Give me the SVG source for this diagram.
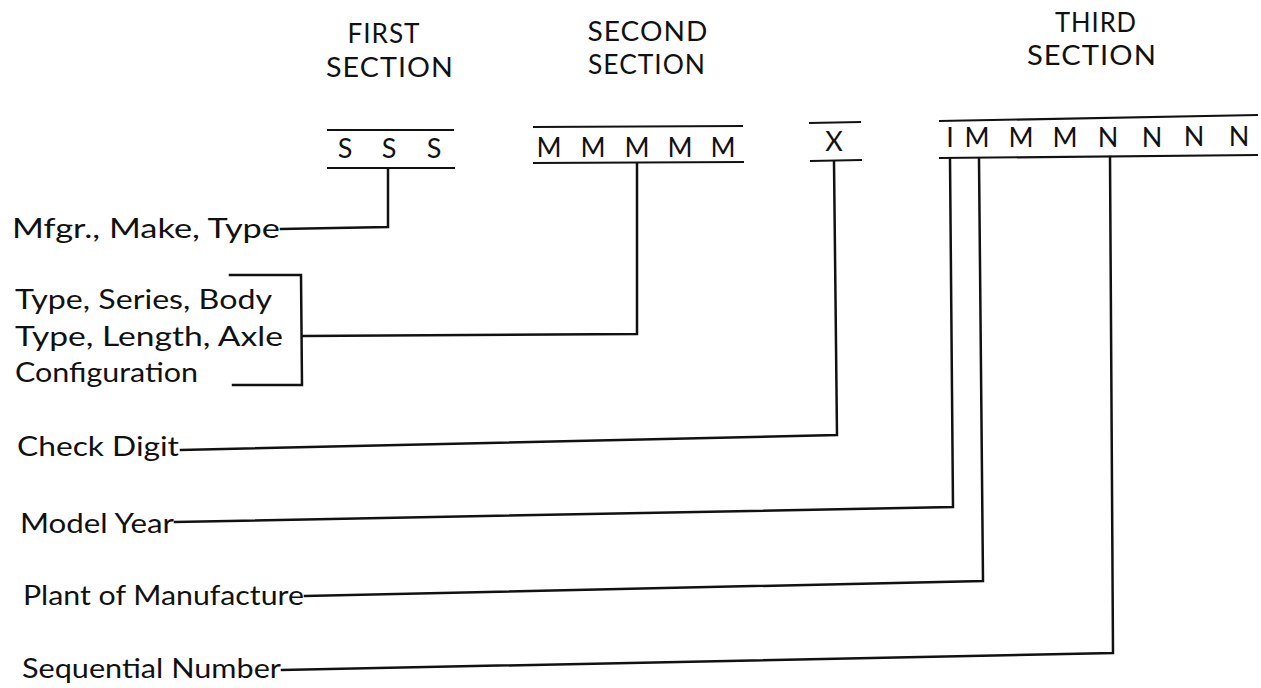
<svg xmlns="http://www.w3.org/2000/svg" width="1261" height="688" viewBox="0 0 1261 688">
<style>
text{font-family:"Lato","Liberation Sans",sans-serif;fill:#111;}
.hd{font-size:27px;text-anchor:middle;letter-spacing:1px;}
.ch{font-size:27px;text-anchor:middle;}
.lb{font-size:26px;}
.ln{fill:none;stroke:#111;stroke-width:2.5;stroke-linejoin:miter;stroke-linecap:square;}
.bx{fill:none;stroke:#111;stroke-width:2.2;}
</style>
<rect width="1261" height="688" fill="#fff"/>
<g id="headers">
<text class="hd" x="384" y="43" textLength="73" lengthAdjust="spacingAndGlyphs">FIRST</text>
<text class="hd" x="390" y="77" textLength="128" lengthAdjust="spacingAndGlyphs">SECTION</text>
<text class="hd" x="648" y="41" textLength="121" lengthAdjust="spacingAndGlyphs">SECOND</text>
<text class="hd" x="647" y="74" textLength="118" lengthAdjust="spacingAndGlyphs">SECTION</text>
<text class="hd" x="1096" y="32" textLength="82" lengthAdjust="spacingAndGlyphs">THIRD</text>
<text class="hd" x="1092" y="65" textLength="130" lengthAdjust="spacingAndGlyphs">SECTION</text>
</g>
<g id="first-section">
<line class="bx" x1="327" y1="130" x2="454" y2="130"/>
<line class="bx" x1="327" y1="168" x2="455" y2="168"/>
<text class="ch" x="345" y="158">S</text>
<text class="ch" x="389" y="158">S</text>
<text class="ch" x="434" y="158">S</text>
</g>
<g id="second-section">
<line class="bx" x1="533" y1="127" x2="743" y2="126"/>
<line class="bx" x1="533" y1="163" x2="744" y2="162"/>
<text class="ch" x="549" y="157">M</text>
<text class="ch" x="593" y="157">M</text>
<text class="ch" x="637" y="157">M</text>
<text class="ch" x="680" y="157">M</text>
<text class="ch" x="723" y="157">M</text>
</g>
<g id="check-box">
<line class="bx" x1="809" y1="123" x2="861" y2="122"/>
<line class="bx" x1="810" y1="161" x2="862" y2="160"/>
<text class="ch" x="834" y="151">X</text>
</g>
<g id="third-section">
<line class="bx" x1="939" y1="121" x2="1258" y2="115"/>
<line class="bx" x1="939" y1="158" x2="1258" y2="155"/>
<text class="ch" x="950" y="147">I</text>
<text class="ch" x="977" y="147">M</text>
<text class="ch" x="1021" y="147">M</text>
<text class="ch" x="1065" y="147">M</text>
<text class="ch" x="1108" y="147">N</text>
<text class="ch" x="1152" y="147">N</text>
<text class="ch" x="1194" y="146">N</text>
<text class="ch" x="1239" y="146">N</text>
</g>
<g id="label-mfgr"><text class="lb" x="12" y="238" textLength="268" lengthAdjust="spacingAndGlyphs">Mfgr., Make, Type</text></g>
<g id="label-type">
<text class="lb" x="15" y="309" textLength="257" lengthAdjust="spacingAndGlyphs">Type, Series, Body</text>
<text class="lb" x="15" y="346" textLength="268" lengthAdjust="spacingAndGlyphs">Type, Length, Axle</text>
<text class="lb" x="15" y="382" textLength="183" lengthAdjust="spacingAndGlyphs">Configuration</text>
</g>
<g id="label-check"><text class="lb" x="17" y="456" textLength="162" lengthAdjust="spacingAndGlyphs">Check Digit</text></g>
<g id="label-year"><text class="lb" x="20" y="533" textLength="154" lengthAdjust="spacingAndGlyphs">Model Year</text></g>
<g id="label-plant"><text class="lb" x="23" y="605" textLength="281" lengthAdjust="spacingAndGlyphs">Plant of Manufacture</text></g>
<g id="label-seq"><text class="lb" x="22" y="678" textLength="259" lengthAdjust="spacingAndGlyphs">Sequential Number</text></g>
<g id="connectors">
<polyline class="ln" points="281,229 388,227 388,169"/>
<polyline class="ln" points="230,275 301,275 302,385 233,385"/>
<polyline class="ln" points="303,336 637,334 637,164"/>
<polyline class="ln" points="181,450 837,435 834,162"/>
<polyline class="ln" points="175,522 953,507 950,159"/>
<polyline class="ln" points="305,596 983,581 979,159"/>
<polyline class="ln" points="282,670 1113,653 1110,157"/>
</g>
</svg>
